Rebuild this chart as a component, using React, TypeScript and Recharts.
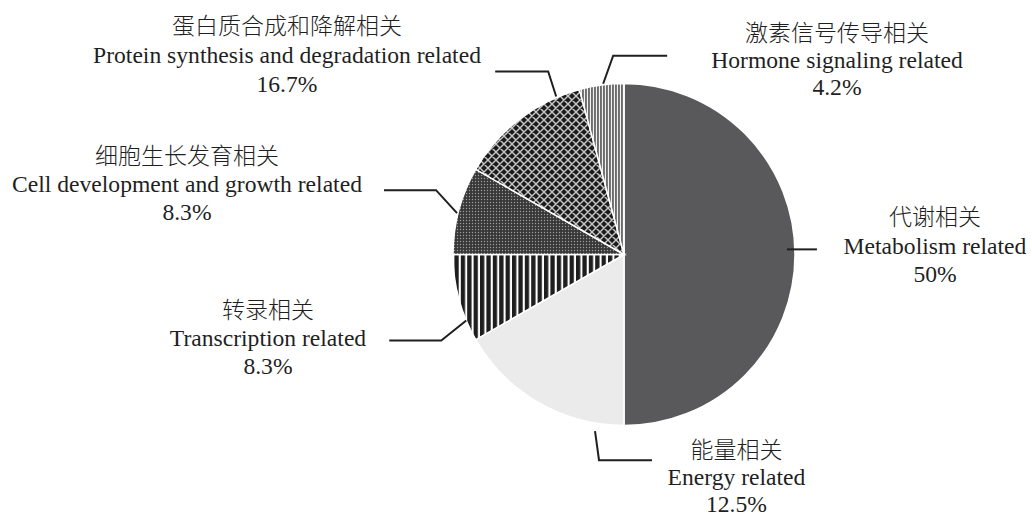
import React from "react";
import { Cell, Pie, PieChart } from "recharts";

// Slice sizes are taken from the drawn angles; the printed percentages are
// kept separately because the figure labels Energy/Protein the other way round.
const namesZh = ["代谢相关", "能量相关", "转录相关", "细胞生长发育相关", "蛋白质合成和降解相关", "激素信号传导相关"];
const namesEn = [
  "Metabolism related",
  "Energy related",
  "Transcription related",
  "Cell development and growth related",
  "Protein synthesis and degradation related",
  "Hormone signaling related",
];
const shares = [50, 16.7, 8.3, 8.3, 12.5, 4.2];
const shareLabels = ["50%", "12.5%", "8.3%", "8.3%", "16.7%", "4.2%"];

const FILLS = ["#59595b", "#ebebeb", "url(#stripeThick)", "url(#dots)", "url(#hatch)", "url(#stripeFine)"];
const INK = "#1f1f1f";
const FONT = "'Liberation Serif', 'Times New Roman', serif";
const FONT_ZH = "'Noto Sans CJK SC', sans-serif";

// leader: where on the slice it starts (fraction of sweep, radial offset),
// then elbow offset from that point and length of the horizontal run.
// text: centre x and three baselines, relative to the pie centre.
const LAYOUT = [
  { frac: 0.49, rOff: -8, elbow: [0, 0], run: 30, tx: 311, ty: [-29.5, -0.5, 27.5] },
  { frac: 0.155, rOff: 8, elbow: [4, 29], run: 53, tx: 112.5, ty: [203.5, 230.5, 257.5] },
  { frac: 0.24, rOff: 0, elbow: [-25, 20], run: -52, tx: -356, ty: [63.5, 91.5, 119.5] },
  { frac: 0.465, rOff: 1, elbow: [-21, -23], run: -52, tx: -437, ty: [-90.5, -62.5, -34.5] },
  { frac: 0.82, rOff: 1, elbow: [-8, -25], run: -53, tx: -337, ty: [-220.5, -191.5, -162.5] },
  { frac: 0.54, rOff: 1, elbow: [10, -28], run: 54, tx: 213, ty: [-213.5, -186.5, -159.5] },
];

const data = shares.map((v, i) => ({ name: namesEn[i], value: v }));

function Patterns() {
  return (
    <svg width={0} height={0} style={{ position: "absolute" }}>
      <defs>
        <pattern id="stripeThick" width={6.4} height={10} patternUnits="userSpaceOnUse">
          <rect width={6.4} height={10} fill="#fff" />
          <rect width={4.3} height={10} fill="#1e1e1e" />
        </pattern>
        <pattern id="stripeFine" width={3} height={10} patternUnits="userSpaceOnUse">
          <rect width={3} height={10} fill="#f2f2f2" />
          <rect width={1.9} height={10} fill="#6c6c6c" />
        </pattern>
        <pattern id="dots" width={3} height={3} patternUnits="userSpaceOnUse">
          <rect width={3} height={3} fill="#383838" />
          <circle cx={1.5} cy={1.5} r={0.7} fill="#a0a0a0" />
        </pattern>
        <pattern id="hatch" width={8} height={8} patternUnits="userSpaceOnUse">
          <rect width={8} height={8} fill="#1b1b1b" />
          <path d="M-1,-1 L9,9 M9,-1 L-1,9 M-1,7 L1,9 M7,-1 L9,1 M-1,1 L1,-1 M7,9 L9,7" stroke="#c9c9c9" strokeWidth={1.4} />
        </pattern>
      </defs>
    </svg>
  );
}

function renderLabel(props: any) {
  const { cx, cy, outerRadius, startAngle, endAngle, index } = props;
  const l = LAYOUT[index];
  const a = ((startAngle + l.frac * (endAngle - startAngle)) * Math.PI) / 180;
  const r = outerRadius + l.rOff;
  const ax = cx + r * Math.cos(a);
  const ay = cy - r * Math.sin(a);
  const ex = ax + l.elbow[0];
  const ey = ay + l.elbow[1];
  const pts = `${ax},${ay} ${ex},${ey} ${ex + l.run},${ey}`;
  const x = cx + l.tx;
  return (
    <g key={`lbl-${index}`}>
      <polyline points={pts} fill="none" stroke={INK} strokeWidth={2} />
      <text x={x} y={cy + l.ty[0]} textAnchor="middle" fill={INK} fontSize={23} fontWeight={300} fontFamily={FONT_ZH}>
        {namesZh[index]}
      </text>
      <text x={x} y={cy + l.ty[1]} textAnchor="middle" fill={INK} fontSize={23.6} fontFamily={FONT}>
        {namesEn[index]}
      </text>
      <text x={x} y={cy + l.ty[2]} textAnchor="middle" fill={INK} fontSize={23.6} fontFamily={FONT}>
        {shareLabels[index]}
      </text>
    </g>
  );
}

export default function App() {
  return (
    <div style={{ position: "absolute", left: 0, top: 0, width: 1032, height: 517, background: "#fff" }}>
      <Patterns />
      <PieChart width={1032} height={517} margin={{ top: 0, right: 0, bottom: 0, left: 0 }}>
        <Pie
          data={data}
          dataKey="value"
          cx={624}
          cy={254.5}
          outerRadius={171}
          startAngle={90}
          endAngle={-270}
          stroke="#fff"
          strokeWidth={1.5}
          label={renderLabel}
          labelLine={false}
          isAnimationActive={false}
        >
          {data.map((d, i) => (
            <Cell key={d.name} fill={FILLS[i]} />
          ))}
        </Pie>
      </PieChart>
    </div>
  );
}
